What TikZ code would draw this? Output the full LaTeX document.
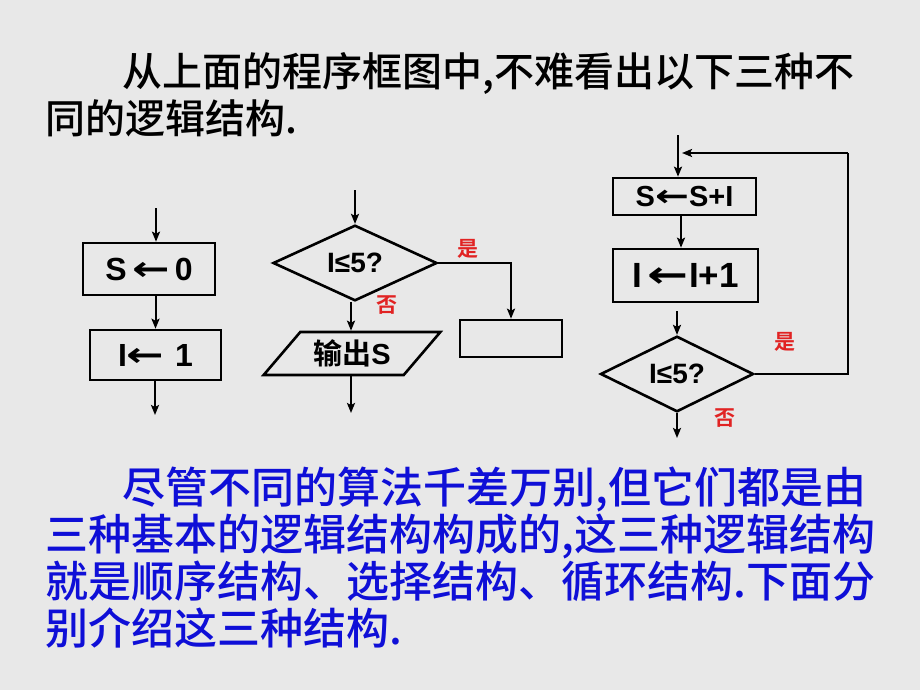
\documentclass[tikz,border=0pt]{standalone}
\usepackage{fontspec}
\usepackage{graphicx}
\setmainfont{Liberation Sans}
\newfontfamily\cjk{Noto Sans CJK SC}[UprightFont={* Medium},BoldFont={* Bold}]
\newfontfamily\arrowfont{DejaVu Sans}
\newcommand{\larr}{\scalebox{1.4}[1.05]{\arrowfont\bfseries ←}}
\usetikzlibrary{shapes.geometric,arrows.meta}
\definecolor{bggray}{RGB}{232,232,232}
\definecolor{yesred}{RGB}{225,35,35}
\definecolor{textblue}{RGB}{15,15,215}
\tikzset{
  procbox/.style={draw,line width=2.6pt,inner sep=0pt,font=\bfseries\fontsize{32}{32}\selectfont},
  decision/.style={diamond,draw,line width=2.6pt,inner sep=0pt,font=\bfseries\fontsize{28}{28}\selectfont},
  iobox/.style={trapezium,trapezium left angle=45,trapezium right angle=135,trapezium stretches=true,draw,line width=2.6pt,inner sep=0pt,font=\bfseries\fontsize{29}{29}\selectfont},
  tag/.style={text=yesred,font=\cjk\bfseries\fontsize{21}{21}\selectfont},
  flow/.style={->,line width=2pt},
}
\begin{document}
\begin{tikzpicture}[x=1pt,y=-1pt,>={Stealth[length=10pt,width=8pt,inset=2pt]}]
\fill[bggray] (0,0) rectangle (920,690);
\useasboundingbox (0,0) rectangle (920,690);

% text above
\node[anchor=north west,inner sep=0pt,align=left,font=\cjk\fontsize{40}{47}\selectfont] (intro) at (45,52)
  {\hspace*{77pt}从上面的程序框图中,不难看出以下三种不\\同的逻辑结构.};

% sequence
\coordinate (in1) at (156,208);
\node[procbox,minimum width=132pt,minimum height=52pt] (s0) at (149,269) {S\,\larr\,0};
\node[procbox,minimum width=131pt,minimum height=50pt] (i1) at (155.5,355) {I\larr\,\,1};
\coordinate (out1) at (155,415);
\draw[flow] (in1) -- (in1 |- s0.north);
\draw[flow] (s0.south -| i1.north) -- (i1.north);
\draw[flow] (i1.south -| out1) -- (out1);

% selection
\coordinate (in2) at (355,190);
\node[decision,minimum width=164pt,minimum height=57pt] (test1) at (355,263) {I≤5?};
\node[procbox,minimum width=102pt,minimum height=37pt] (empty) at (511,338.5) {};
\node[iobox,minimum width=177pt,minimum height=43pt] (print) at (352,353.5) {\cjk\bfseries 输出\rmfamily S};
\coordinate (out2) at (351,413);
\draw[flow] (in2) -- (test1.north);
\draw[flow] (test1.east) -| (empty.north);
\draw[flow] (test1.south -| out2) -- (out2 |- print.north);
\draw[flow] (print.south -| out2) -- (out2);
\node[tag] (yes1) at (468,249) {是};
\node[tag] (no1) at (387,305) {否};

% loop
\coordinate (in3) at (678,135);
\node[procbox,minimum width=143pt,minimum height=37pt,font=\bfseries\fontsize{29}{29}\selectfont] (sum) at (684.5,196.5) {S\larr S+I};
\node[procbox,minimum width=145pt,minimum height=53pt,font=\bfseries\fontsize{35}{35}\selectfont] (inc) at (685.5,275.5) {I\,\larr I+1};
\node[decision,minimum width=153pt,minimum height=58pt] (test2) at (677,374) {I≤5?};
\coordinate (back) at (848,153);
\coordinate (join) at (682,153);
\coordinate (out3) at (677,438);
\draw[flow] (in3) -- (in3 |- sum.north);
\draw[flow] (sum.south -| 681,0) -- (inc.north -| 681,0);
\draw[flow,shorten <=8pt] (inc.south -| test2.north) -- (test2.north);
\draw[line width=2pt] (test2.east) -| (back);
\draw[flow] (back) -- (join);
\draw[flow] (test2.south) -- (out3);
\node[tag] (yes2) at (785,342) {是};
\node[tag] (no2) at (725,418) {否};

% text below
\node[anchor=north west,inner sep=0pt,align=left,text=textblue,font=\cjk\fontsize{43}{47}\selectfont] (summary) at (45,467)
  {\hspace*{77pt}尽管不同的算法千差万别,但它们都是由\\
   三种基本的逻辑结构构成的,这三种逻辑结构\\
   就是顺序结构、选择结构、循环结构.下面分\\
   别介绍这三种结构.};
\end{tikzpicture}
\end{document}
